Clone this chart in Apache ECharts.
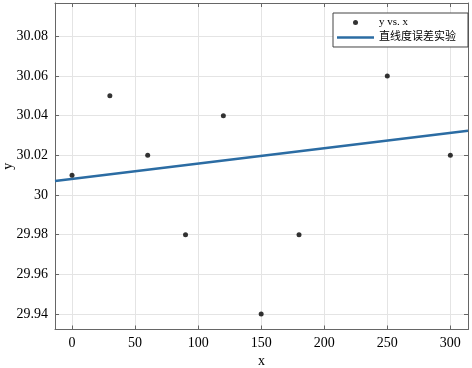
<!DOCTYPE html>
<html>
<head>
<meta charset="utf-8">
<script src="https://cdn.jsdelivr.net/npm/echarts@6/dist/echarts.min.js"></script>
<style>
  html, body { margin: 0; padding: 0; background: #fff; }
  #chart { width: 472px; height: 368px; }
</style>
</head>
<body>
<div id="chart"></div>
<script>
// measured points
var xValues = [0, 30, 60, 90, 120, 150, 180, 250, 300];
var yValues = [30.01, 30.05, 30.02, 29.98, 30.04, 29.94, 29.98, 30.06, 30.02];
// fitted line, read at the two plot edges
var fitX = [-13.5, 314];
var fitY = [30.0071, 30.0324];
// tick labels
var xTicks = [0, 50, 100, 150, 200, 250, 300];
var yTicks = [29.94, 29.96, 29.98, 30, 30.02, 30.04, 30.06, 30.08];

var xMin = -13.5, xMax = 314;
var yMin = 29.9322, yMax = 30.0968;

var serif = '"Liberation Serif", "Noto Sans CJK SC", serif';
var axisColor = '#666';
var gridColor = '#e4e4e4';

function pairs(a, b) {
  var out = [];
  for (var i = 0; i < a.length; i++) out.push([a[i], b[i]]);
  return out;
}

function mirrorAxis(pos, ticks, min, max) {
  return {
    type: 'value', position: pos, min: min, max: max,
    axisLine: { show: true, onZero: false, lineStyle: { color: axisColor } },
    axisTick: { show: true, inside: true, length: 4, customValues: ticks, lineStyle: { color: axisColor } },
    axisLabel: { show: false },
    splitLine: { show: false }
  };
}

var myChart = echarts.init(document.getElementById('chart'));
myChart.setOption({
  animation: false,
  backgroundColor: '#fff',
  grid: { left: 55, right: 4, top: 3, bottom: 38.5, containLabel: false, outerBoundsMode: 'none' },
  legend: {
    orient: 'vertical',
    right: 4,
    top: 13,
    itemWidth: 37,
    itemHeight: 5,
    itemGap: 4,
    padding: [4, 12, 4, 4],
    borderColor: '#444',
    borderWidth: 1,
    backgroundColor: '#fff',
    textStyle: { fontFamily: serif, fontSize: 11, color: '#000' },
    data: [
      { name: 'y vs. x' },
      { name: '直线度误差实验', icon: 'path://M0,0L37,0L37,2.5L0,2.5Z' }
    ]
  },
  xAxis: [{
    type: 'value', position: 'bottom', min: xMin, max: xMax,
    name: 'x', nameLocation: 'middle', nameGap: 25, nameMoveOverlap: false,
    nameTextStyle: { fontFamily: serif, fontSize: 14, color: '#000' },
    axisLine: { show: true, onZero: false, lineStyle: { color: axisColor } },
    axisTick: { show: true, inside: true, length: 4, customValues: xTicks, lineStyle: { color: axisColor } },
    axisLabel: { customValues: xTicks, fontFamily: serif, fontSize: 14, color: '#000', margin: 7 },
    splitLine: { show: true, lineStyle: { color: gridColor } }
  }, mirrorAxis('top', xTicks, xMin, xMax)],
  yAxis: [{
    type: 'value', position: 'left', min: yMin, max: yMax,
    name: 'y', nameLocation: 'middle', nameGap: 40, nameRotate: 90, nameMoveOverlap: false,
    nameTextStyle: { fontFamily: serif, fontSize: 14, color: '#000' },
    axisLine: { show: true, onZero: false, lineStyle: { color: axisColor } },
    axisTick: { show: true, inside: true, length: 4, customValues: yTicks, lineStyle: { color: axisColor } },
    axisLabel: { customValues: yTicks, fontFamily: serif, fontSize: 14, color: '#000', margin: 7 },
    splitLine: { show: true, lineStyle: { color: gridColor } }
  }, mirrorAxis('right', yTicks, yMin, yMax)],
  series: [{
    name: 'y vs. x',
    type: 'scatter',
    symbol: 'circle',
    symbolSize: 5,
    itemStyle: { color: '#000' },
    data: pairs(xValues, yValues),
    z: 3
  }, {
    name: '直线度误差实验',
    type: 'line',
    symbol: 'none',
    lineStyle: { color: '#2b6ca3', width: 2.5 },
    itemStyle: { color: '#2b6ca3' },
    data: pairs(fitX, fitY),
    z: 2
  }]
});
</script>
</body>
</html>
